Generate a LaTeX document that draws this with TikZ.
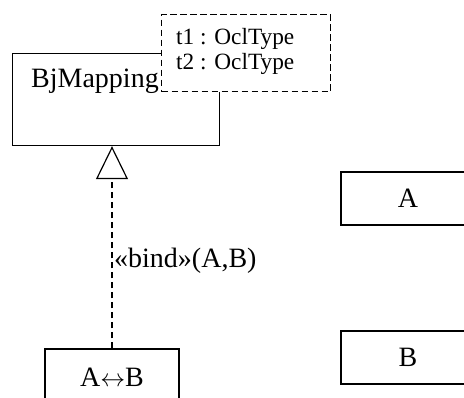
\documentclass[tikz,border=0pt]{standalone}
\usepackage{fontspec}
\setmainfont{Liberation Serif}
\usetikzlibrary{arrows.meta}
\tikzset{
  umlbox/.style={draw, line width=1.2pt, rectangle, inner sep=0pt},
  bigtxt/.style={font=\fontsize{28}{32}\selectfont, inner sep=0pt},
  smalltxt/.style={font=\fontsize{23.3}{25}\selectfont, inner sep=0pt, align=left},
  dashline/.style={line width=1.2pt, dash pattern=on 6.5pt off 3.5pt},
}
\begin{document}
\begin{tikzpicture}[x=1pt, y=-1pt]
\useasboundingbox (0,0) rectangle (464,398);
\clip (0,0) rectangle (464,398);
% BjMapping class
\node[umlbox, anchor=north west, minimum width=207pt, minimum height=92pt] (bj) at (12,53) {};
\node[bigtxt, anchor=base west] (bjname) at (31,88) {BjMapping};
% template parameter box
\node[umlbox, dashline, fill=white, anchor=north west, minimum width=169pt, minimum height=77pt] (tpl) at (161,14) {};
\node[smalltxt, anchor=base west] (p1) at (176,45) {t1 : OclType};
\node[smalltxt, anchor=base west] (p2) at (176,70) {t2 : OclType};
% bound class
\node[umlbox, minimum width=134pt, minimum height=53pt] (ab) at (112,375.5) {};
\node[bigtxt, anchor=base] (abtxt) at (112,386.5) {A$\leftrightarrow$B};
% A and B
\node[umlbox, bigtxt, minimum width=134pt, minimum height=53pt] (a) at (408,198.5) {A};
\node[umlbox, bigtxt, minimum width=134pt, minimum height=53pt] (b) at (408,357.5) {B};
% bind dependency
\draw[dashline, -{Triangle[open, length=33pt, width=32pt, line width=1.2pt, sep=0pt]}] (ab.north) -- (ab.north |- bj.south);
\node[bigtxt, anchor=base west] (bindlbl) at (114,268) {«bind»(A,B)};
\end{tikzpicture}
\end{document}
